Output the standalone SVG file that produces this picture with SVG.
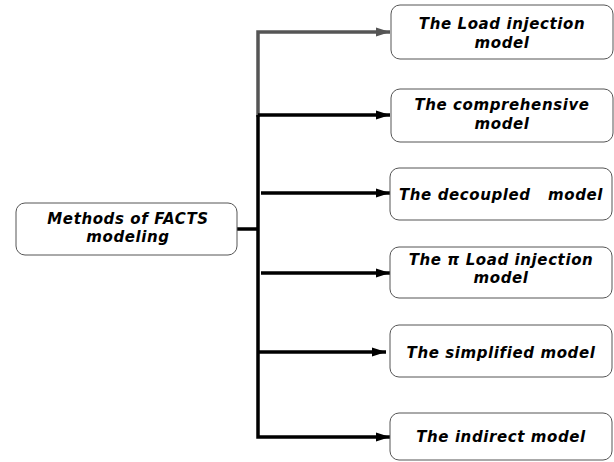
<svg xmlns="http://www.w3.org/2000/svg" width="614" height="462" viewBox="0 0 614 462">
<style>
.box{fill:#fff;stroke:#555;stroke-width:1}
.t{font-family:"DejaVu Sans","Open Sans",sans-serif;font-weight:bold;font-style:italic;font-size:15px;letter-spacing:0.6px;fill:#000;text-anchor:middle}
.c{fill:none;stroke:#000;stroke-width:3.5}
.g{stroke:#555}
</style>
<defs>
<marker id="ah" markerUnits="userSpaceOnUse" markerWidth="14" markerHeight="12" refX="14" refY="6" orient="auto"><path d="M0,1.5 L14,6 L0,10.5 z" fill="#000"/></marker>
<marker id="ahg" markerUnits="userSpaceOnUse" markerWidth="14" markerHeight="12" refX="14" refY="6" orient="auto"><path d="M0,1.5 L14,6 L0,10.5 z" fill="#555"/></marker>
</defs>
<g id="connectors">
<path class="c g" d="M258,117 V32 H390" marker-end="url(#ahg)"/>
<path class="c" d="M258,115 V437 H390" marker-end="url(#ah)"/>
<path class="c" d="M258,115 H390" marker-end="url(#ah)"/>
<path class="c" d="M261,193 H390" marker-end="url(#ah)"/>
<path class="c" d="M261,273 H390" marker-end="url(#ah)"/>
<path class="c" d="M258,352 H386" marker-end="url(#ah)"/>
<path class="c" d="M237,229 H258"/>
</g>
<g id="root">
<rect class="box" x="16" y="203" width="221" height="52" rx="9"/>
<text class="t"><tspan x="128" y="224">Methods of FACTS</tspan><tspan x="128" y="242">modeling</tspan></text>
</g>
<g id="n1">
<rect class="box" x="391" y="5" width="222" height="54" rx="9"/>
<text class="t"><tspan x="502" y="29">The Load injection</tspan><tspan x="502" y="48">model</tspan></text>
</g>
<g id="n2">
<rect class="box" x="391" y="89" width="222" height="53" rx="9"/>
<text class="t"><tspan x="502" y="110">The comprehensive</tspan><tspan x="502" y="129">model</tspan></text>
</g>
<g id="n3">
<rect class="box" x="390" y="168" width="222" height="52" rx="9"/>
<text class="t" x="501" y="200" xml:space="preserve">The decoupled   model</text>
</g>
<g id="n4">
<rect class="box" x="390" y="247" width="222" height="51" rx="9"/>
<text class="t"><tspan x="501" y="265">The π Load injection</tspan><tspan x="501" y="283">model</tspan></text>
</g>
<g id="n5">
<rect class="box" x="390" y="325" width="222" height="52" rx="9"/>
<text class="t" x="501" y="358">The simplified model</text>
</g>
<g id="n6">
<rect class="box" x="390" y="413" width="222" height="47" rx="9"/>
<text class="t" x="501" y="442">The indirect model</text>
</g>
</svg>
